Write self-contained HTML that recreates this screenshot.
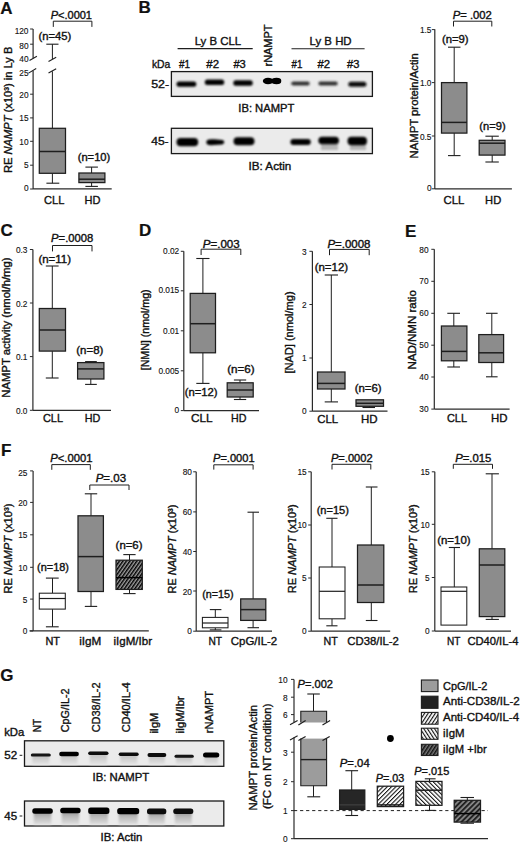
<!DOCTYPE html>
<html><head><meta charset="utf-8"><title>Figure</title>
<style>html,body{margin:0;padding:0;background:#fff;width:520px;height:844px;overflow:hidden}
svg{display:block;font-family:"Liberation Sans", sans-serif}
text{fill:#111;stroke:#111;stroke-width:0.36px}
text.t{stroke-width:0.12px}
text.L{stroke-width:0.2px}</style></head>
<body><svg width="520" height="844" viewBox="0 0 520 844">
<defs>
<filter id="b4" x="-20%" y="-100%" width="140%" height="300%"><feGaussianBlur stdDeviation="0.4"/></filter>
<filter id="b9" x="-20%" y="-100%" width="140%" height="300%"><feGaussianBlur stdDeviation="0.9"/></filter>
<filter id="b7" x="-20%" y="-100%" width="140%" height="300%"><feGaussianBlur stdDeviation="0.7"/></filter>
<filter id="b6" x="-20%" y="-100%" width="140%" height="300%"><feGaussianBlur stdDeviation="0.6"/></filter>
<filter id="b10" x="-20%" y="-100%" width="140%" height="300%"><feGaussianBlur stdDeviation="1.0"/></filter>
<linearGradient id="smear1" x1="0" y1="0" x2="0" y2="1"><stop offset="0" stop-color="#bdbdbd"/><stop offset="1" stop-color="#e4e4e4"/></linearGradient>
<linearGradient id="smear2" x1="0" y1="0" x2="0" y2="1"><stop offset="0" stop-color="#8a8a8a"/><stop offset="0.4" stop-color="#b8b8b8"/><stop offset="1" stop-color="#dedede"/></linearGradient>
<pattern id="hF" patternUnits="userSpaceOnUse" width="2.85" height="2.85" patternTransform="rotate(35)"><rect width="2.85" height="2.85" fill="#a0a0a0"/><rect width="1.45" height="2.85" fill="#000"/></pattern>
<pattern id="hG1" patternUnits="userSpaceOnUse" width="3.05" height="3.05" patternTransform="rotate(45)"><rect width="3.05" height="3.05" fill="#fff"/><rect width="1.05" height="3.05" fill="#111"/></pattern>
<pattern id="hG2" patternUnits="userSpaceOnUse" width="3.05" height="3.05" patternTransform="rotate(-45)"><rect width="3.05" height="3.05" fill="#fff"/><rect width="1.05" height="3.05" fill="#111"/></pattern>
<pattern id="hG3" patternUnits="userSpaceOnUse" width="3.7" height="3.7" patternTransform="rotate(45)"><rect width="3.7" height="3.7" fill="#8a8a8a"/><rect width="2.0" height="3.7" fill="#222"/></pattern>
<pattern id="hL1" patternUnits="userSpaceOnUse" width="3.0" height="3.0" patternTransform="rotate(33)"><rect width="3.0" height="3.0" fill="#fff"/><rect width="1.15" height="3.0" fill="#111"/></pattern>
<pattern id="hL2" patternUnits="userSpaceOnUse" width="3.0" height="3.0" patternTransform="rotate(-33)"><rect width="3.0" height="3.0" fill="#fff"/><rect width="1.15" height="3.0" fill="#111"/></pattern>
<pattern id="hL3" patternUnits="userSpaceOnUse" width="3.0" height="3.0" patternTransform="rotate(33)"><rect width="3.0" height="3.0" fill="#777"/><rect width="1.5" height="3.0" fill="#111"/></pattern>
</defs>
<rect width="520" height="844" fill="#fff"/>
<text x="0.3" y="13.5" font-size="17" font-weight="bold" class="L">A</text>
<text x="50.70" y="18.80" font-size="10.3" font-weight="normal" textLength="41.30" lengthAdjust="spacingAndGlyphs"><tspan font-style="italic">P</tspan>&lt;.0001</text>
<path d="M53.30 26.90V21.20H91.90V26.90" fill="none" stroke="#1e1e1e" stroke-width="1"/>
<line x1="33.10" y1="29.00" x2="33.10" y2="58.20" stroke="#2a2a2a" stroke-width="1.2" />
<line x1="33.10" y1="70.80" x2="33.10" y2="189.00" stroke="#2a2a2a" stroke-width="1.2" />
<line x1="30.10" y1="29.00" x2="33.10" y2="29.00" stroke="#2a2a2a" stroke-width="1.0" />
<text x="28.50" y="33.59" font-size="8.3" text-anchor="end" textLength="13.85" lengthAdjust="spacingAndGlyphs" class="t">120</text>
<line x1="30.10" y1="44.20" x2="33.10" y2="44.20" stroke="#2a2a2a" stroke-width="1.0" />
<text x="28.50" y="48.89" font-size="8.3" text-anchor="end" textLength="9.23" lengthAdjust="spacingAndGlyphs" class="t">80</text>
<text x="28.50" y="61.59" font-size="8.3" text-anchor="end" textLength="9.23" lengthAdjust="spacingAndGlyphs" class="t">40</text>
<text x="28.50" y="75.59" font-size="8.3" text-anchor="end" textLength="9.23" lengthAdjust="spacingAndGlyphs" class="t">25</text>
<line x1="30.10" y1="94.20" x2="33.10" y2="94.20" stroke="#2a2a2a" stroke-width="1.0" />
<text x="28.50" y="98.49" font-size="8.3" text-anchor="end" textLength="9.23" lengthAdjust="spacingAndGlyphs" class="t">20</text>
<line x1="30.10" y1="117.90" x2="33.10" y2="117.90" stroke="#2a2a2a" stroke-width="1.0" />
<text x="28.50" y="121.29" font-size="8.3" text-anchor="end" textLength="9.23" lengthAdjust="spacingAndGlyphs" class="t">15</text>
<line x1="30.10" y1="141.30" x2="33.10" y2="141.30" stroke="#2a2a2a" stroke-width="1.0" />
<text x="28.50" y="144.59" font-size="8.3" text-anchor="end" textLength="9.23" lengthAdjust="spacingAndGlyphs" class="t">10</text>
<line x1="30.10" y1="165.20" x2="33.10" y2="165.20" stroke="#2a2a2a" stroke-width="1.0" />
<text x="28.50" y="168.39" font-size="8.3" text-anchor="end" textLength="4.62" lengthAdjust="spacingAndGlyphs" class="t">5</text>
<line x1="30.10" y1="189.00" x2="33.10" y2="189.00" stroke="#2a2a2a" stroke-width="1.0" />
<text x="28.50" y="191.19" font-size="8.3" text-anchor="end" textLength="4.62" lengthAdjust="spacingAndGlyphs" class="t">0</text>
<line x1="29.50" y1="60.40" x2="36.90" y2="56.20" stroke="#1e1e1e" stroke-width="1.1" />
<line x1="28.50" y1="73.10" x2="36.20" y2="68.50" stroke="#1e1e1e" stroke-width="1.1" />
<line x1="52.40" y1="44.20" x2="52.40" y2="59.00" stroke="#1e1e1e" stroke-width="1.0" />
<line x1="52.40" y1="71.30" x2="52.40" y2="128.30" stroke="#1e1e1e" stroke-width="1.0" />
<line x1="46.30" y1="44.20" x2="58.50" y2="44.20" stroke="#1e1e1e" stroke-width="1.1" />
<line x1="48.50" y1="61.50" x2="56.20" y2="57.30" stroke="#1e1e1e" stroke-width="1.1" />
<line x1="48.50" y1="73.10" x2="56.20" y2="68.80" stroke="#1e1e1e" stroke-width="1.1" />
<line x1="52.40" y1="173.30" x2="52.40" y2="183.20" stroke="#1e1e1e" stroke-width="1.0" />
<line x1="46.40" y1="183.20" x2="59.30" y2="183.20" stroke="#1e1e1e" stroke-width="1.1" />
<rect x="39.30" y="128.30" width="26.20" height="45.00" fill="#8c8c8c" stroke="#1e1e1e" stroke-width="1.25"/>
<line x1="39.30" y1="151.50" x2="65.50" y2="151.50" stroke="#1e1e1e" stroke-width="1.5" />
<text x="38.50" y="39.80" font-size="10" font-weight="normal" textLength="32.80" lengthAdjust="spacingAndGlyphs">(n=45)</text>
<line x1="91.60" y1="167.10" x2="91.60" y2="173.00" stroke="#1e1e1e" stroke-width="1.0" />
<line x1="85.40" y1="167.10" x2="97.90" y2="167.10" stroke="#1e1e1e" stroke-width="1.1" />
<line x1="91.60" y1="182.60" x2="91.60" y2="186.40" stroke="#1e1e1e" stroke-width="1.0" />
<line x1="85.40" y1="186.40" x2="97.90" y2="186.40" stroke="#1e1e1e" stroke-width="1.1" />
<rect x="78.90" y="173.00" width="26.00" height="9.60" fill="#8c8c8c" stroke="#1e1e1e" stroke-width="1.25"/>
<line x1="78.90" y1="179.20" x2="104.90" y2="179.20" stroke="#1e1e1e" stroke-width="1.5" />
<text x="77.70" y="161.30" font-size="10" font-weight="normal" textLength="32.60" lengthAdjust="spacingAndGlyphs">(n=10)</text>
<line x1="33.10" y1="188.90" x2="111.70" y2="188.90" stroke="#2a2a2a" stroke-width="1.2" />
<text x="44.10" y="203.60" font-size="11" font-weight="normal" textLength="20.30" lengthAdjust="spacingAndGlyphs">CLL</text>
<text x="84.50" y="203.60" font-size="11" font-weight="normal" textLength="15.90" lengthAdjust="spacingAndGlyphs">HD</text>
<text x="11.60" y="173.10" font-size="10.5" transform="rotate(-90 11.60 173.10)" textLength="126.60" lengthAdjust="spacingAndGlyphs">RE <tspan font-style="italic">NAMPT</tspan> (x10³) in Ly B</text>
<text x="138.4" y="13.3" font-size="17" font-weight="bold" class="L">B</text>
<text x="194.70" y="44.80" font-size="11" font-weight="normal" textLength="46.50" lengthAdjust="spacingAndGlyphs">Ly B CLL</text>
<line x1="177.60" y1="48.60" x2="252.70" y2="48.60" stroke="#1e1e1e" stroke-width="1.1" />
<text x="309.60" y="44.90" font-size="11" font-weight="normal" textLength="42.00" lengthAdjust="spacingAndGlyphs">Ly B HD</text>
<line x1="291.50" y1="48.80" x2="364.60" y2="48.80" stroke="#1e1e1e" stroke-width="1.1" />
<text x="151.90" y="68.10" font-size="10.5" font-weight="normal" textLength="18.40" lengthAdjust="spacingAndGlyphs">kDa</text>
<text x="179.00" y="67.60" font-size="10.5" font-weight="normal" textLength="11.00" lengthAdjust="spacingAndGlyphs">#1</text>
<text x="206.30" y="67.60" font-size="10.5" font-weight="normal" textLength="12.70" lengthAdjust="spacingAndGlyphs">#2</text>
<text x="233.40" y="67.60" font-size="10.5" font-weight="normal" textLength="12.40" lengthAdjust="spacingAndGlyphs">#3</text>
<text x="291.60" y="67.60" font-size="10.5" font-weight="normal" textLength="10.80" lengthAdjust="spacingAndGlyphs">#1</text>
<text x="317.50" y="67.60" font-size="10.5" font-weight="normal" textLength="12.60" lengthAdjust="spacingAndGlyphs">#2</text>
<text x="347.00" y="67.60" font-size="10.5" font-weight="normal" textLength="12.40" lengthAdjust="spacingAndGlyphs">#3</text>
<text x="272.00" y="66.50" font-size="10.5" transform="rotate(-90 272.00 66.50)" textLength="42.00" lengthAdjust="spacingAndGlyphs">rNAMPT</text>
<rect x="171.4" y="71.6" width="201.00" height="24.80" fill="#ebebeb" stroke="#1a1a1a" stroke-width="1.3"/>
<text x="151.20" y="88.00" font-size="10.5" font-weight="normal" textLength="17.90" lengthAdjust="spacingAndGlyphs">52-</text>
<rect x="176.50" y="81.40" width="19.80" height="5.40" rx="2.50" fill="#000" opacity="1" filter="url(#b9)"/>
<rect x="204.80" y="79.50" width="19.40" height="5.40" rx="2.50" fill="#000" opacity="1" filter="url(#b9)"/>
<rect x="233.30" y="80.30" width="19.40" height="5.40" rx="2.50" fill="#000" opacity="1" filter="url(#b9)"/>
<ellipse cx="268.00" cy="81.00" rx="5.20" ry="3.30" fill="#000" opacity="1" filter="url(#b6)"/>
<ellipse cx="276.50" cy="81.00" rx="4.80" ry="3.20" fill="#000" opacity="1" filter="url(#b6)"/>
<rect x="263.50" y="78.80" width="17.50" height="4.40" rx="2.20" fill="#000" opacity="1" filter="url(#b6)"/>
<rect x="291.20" y="81.40" width="18.50" height="4.20" rx="2.10" fill="#303030" opacity="1" filter="url(#b9)"/>
<rect x="318.40" y="81.40" width="19.30" height="4.20" rx="2.10" fill="#303030" opacity="1" filter="url(#b9)"/>
<rect x="348.30" y="81.70" width="18.10" height="5.00" rx="2.50" fill="#101010" opacity="1" filter="url(#b9)"/>
<text x="238.30" y="111.50" font-size="10.5" font-weight="normal" textLength="56.00" lengthAdjust="spacingAndGlyphs">IB: NAMPT</text>
<rect x="171.4" y="128.3" width="201.00" height="25.30" fill="#ebebeb" stroke="#1a1a1a" stroke-width="1.3"/>
<text x="151.20" y="145.00" font-size="10.5" font-weight="normal" textLength="17.40" lengthAdjust="spacingAndGlyphs">45-</text>
<rect x="176.50" y="138.00" width="21.70" height="8.20" rx="4.00" fill="#000" opacity="1" filter="url(#b9)"/>
<path d="M206.3 142.2 C206.3 139.2 210 139 214.5 139.3 L222 140 C225 140.4 225 144 222 144.4 L214.5 145.1 C210 145.4 206.3 145.2 206.3 142.2Z" fill="#050505" filter="url(#b9)"/>
<rect x="233.50" y="137.30" width="21.00" height="8.00" rx="4.00" fill="#000" opacity="1" filter="url(#b9)"/>
<rect x="290.40" y="139.00" width="20.40" height="6.00" rx="3.00" fill="#000" opacity="1" filter="url(#b9)"/>
<rect x="321" y="143" width="17" height="7" fill="#a0a0a0" opacity="0.7" filter="url(#b10)"/>
<rect x="350" y="143.5" width="16" height="6.5" fill="#a0a0a0" opacity="0.7" filter="url(#b10)"/>
<rect x="318.30" y="136.70" width="20.70" height="7.60" rx="3.80" fill="#000" opacity="1" filter="url(#b9)"/>
<rect x="347.50" y="136.80" width="19.50" height="8.40" rx="4.00" fill="#000" opacity="1" filter="url(#b9)"/>
<text x="248.50" y="170.00" font-size="10.5" font-weight="normal" textLength="42.80" lengthAdjust="spacingAndGlyphs">IB: Actin</text>
<text x="452.70" y="18.50" font-size="10.3" font-weight="normal" textLength="39.20" lengthAdjust="spacingAndGlyphs"><tspan font-style="italic">P</tspan>= .002</text>
<path d="M453.50 26.50V21.20H491.80V26.50" fill="none" stroke="#1e1e1e" stroke-width="1"/>
<line x1="434.80" y1="29.30" x2="434.80" y2="189.00" stroke="#2a2a2a" stroke-width="1.2" />
<line x1="431.80" y1="29.60" x2="434.80" y2="29.60" stroke="#2a2a2a" stroke-width="1.0" />
<text x="431.50" y="32.69" font-size="8.3" text-anchor="end" textLength="11.54" lengthAdjust="spacingAndGlyphs" class="t">1.5</text>
<line x1="431.80" y1="82.60" x2="434.80" y2="82.60" stroke="#2a2a2a" stroke-width="1.0" />
<text x="431.50" y="85.79" font-size="8.3" text-anchor="end" textLength="11.54" lengthAdjust="spacingAndGlyphs" class="t">1.0</text>
<line x1="431.80" y1="136.00" x2="434.80" y2="136.00" stroke="#2a2a2a" stroke-width="1.0" />
<text x="431.50" y="139.59" font-size="8.3" text-anchor="end" textLength="11.54" lengthAdjust="spacingAndGlyphs" class="t">0.5</text>
<line x1="431.80" y1="188.80" x2="434.80" y2="188.80" stroke="#2a2a2a" stroke-width="1.0" />
<text x="431.50" y="191.29" font-size="8.3" text-anchor="end" textLength="4.62" lengthAdjust="spacingAndGlyphs" class="t">0</text>
<line x1="454.20" y1="47.20" x2="454.20" y2="82.60" stroke="#1e1e1e" stroke-width="1.0" />
<line x1="448.00" y1="47.20" x2="460.50" y2="47.20" stroke="#1e1e1e" stroke-width="1.1" />
<line x1="454.20" y1="133.10" x2="454.20" y2="155.60" stroke="#1e1e1e" stroke-width="1.0" />
<line x1="448.00" y1="155.60" x2="460.50" y2="155.60" stroke="#1e1e1e" stroke-width="1.1" />
<rect x="441.50" y="82.60" width="25.40" height="50.50" fill="#8c8c8c" stroke="#1e1e1e" stroke-width="1.25"/>
<line x1="441.50" y1="122.40" x2="466.90" y2="122.40" stroke="#1e1e1e" stroke-width="1.5" />
<text x="441.90" y="43.00" font-size="10" font-weight="normal" textLength="26.70" lengthAdjust="spacingAndGlyphs">(n=9)</text>
<line x1="492.20" y1="136.20" x2="492.20" y2="140.30" stroke="#1e1e1e" stroke-width="1.0" />
<line x1="485.40" y1="136.20" x2="498.80" y2="136.20" stroke="#1e1e1e" stroke-width="1.1" />
<line x1="492.20" y1="155.10" x2="492.20" y2="162.00" stroke="#1e1e1e" stroke-width="1.0" />
<line x1="485.40" y1="162.00" x2="498.80" y2="162.00" stroke="#1e1e1e" stroke-width="1.1" />
<rect x="479.20" y="140.30" width="25.80" height="14.80" fill="#8c8c8c" stroke="#1e1e1e" stroke-width="1.25"/>
<line x1="479.20" y1="143.20" x2="505.00" y2="143.20" stroke="#1e1e1e" stroke-width="1.5" />
<text x="479.30" y="130.30" font-size="10" font-weight="normal" textLength="26.30" lengthAdjust="spacingAndGlyphs">(n=9)</text>
<line x1="434.80" y1="188.80" x2="511.90" y2="188.80" stroke="#2a2a2a" stroke-width="1.2" />
<text x="443.50" y="203.50" font-size="11" font-weight="normal" textLength="20.80" lengthAdjust="spacingAndGlyphs">CLL</text>
<text x="485.10" y="203.50" font-size="11" font-weight="normal" textLength="16.10" lengthAdjust="spacingAndGlyphs">HD</text>
<text x="418.00" y="158.40" font-size="10.8" transform="rotate(-90 418.00 158.40)" textLength="105.30" lengthAdjust="spacingAndGlyphs">NAMPT protein/Actin</text>
<text x="0.5" y="236.2" font-size="17" font-weight="bold" class="L">C</text>
<text x="51.10" y="241.90" font-size="10.3" font-weight="normal" textLength="42.10" lengthAdjust="spacingAndGlyphs"><tspan font-style="italic">P</tspan>=.0008</text>
<path d="M52.50 251.40V245.50H92.00V251.40" fill="none" stroke="#1e1e1e" stroke-width="1"/>
<line x1="32.90" y1="249.50" x2="32.90" y2="410.30" stroke="#2a2a2a" stroke-width="1.2" />
<line x1="29.90" y1="249.50" x2="32.90" y2="249.50" stroke="#2a2a2a" stroke-width="1.0" />
<text x="27.50" y="253.49" font-size="8.3" text-anchor="end" textLength="11.54" lengthAdjust="spacingAndGlyphs" class="t">0.3</text>
<line x1="29.90" y1="303.00" x2="32.90" y2="303.00" stroke="#2a2a2a" stroke-width="1.0" />
<text x="27.50" y="306.59" font-size="8.3" text-anchor="end" textLength="11.54" lengthAdjust="spacingAndGlyphs" class="t">0.2</text>
<line x1="29.90" y1="356.60" x2="32.90" y2="356.60" stroke="#2a2a2a" stroke-width="1.0" />
<text x="27.50" y="359.99" font-size="8.3" text-anchor="end" textLength="11.54" lengthAdjust="spacingAndGlyphs" class="t">0.1</text>
<line x1="29.90" y1="410.30" x2="32.90" y2="410.30" stroke="#2a2a2a" stroke-width="1.0" />
<text x="27.50" y="413.69" font-size="8.3" text-anchor="end" textLength="11.54" lengthAdjust="spacingAndGlyphs" class="t">0.0</text>
<line x1="52.30" y1="266.00" x2="52.30" y2="308.50" stroke="#1e1e1e" stroke-width="1.0" />
<line x1="45.80" y1="266.00" x2="58.60" y2="266.00" stroke="#1e1e1e" stroke-width="1.1" />
<line x1="52.30" y1="351.10" x2="52.30" y2="378.00" stroke="#1e1e1e" stroke-width="1.0" />
<line x1="45.80" y1="378.00" x2="58.60" y2="378.00" stroke="#1e1e1e" stroke-width="1.1" />
<rect x="39.30" y="308.50" width="26.20" height="42.60" fill="#8c8c8c" stroke="#1e1e1e" stroke-width="1.25"/>
<line x1="39.30" y1="330.00" x2="65.50" y2="330.00" stroke="#1e1e1e" stroke-width="1.5" />
<text x="38.40" y="263.20" font-size="10" font-weight="normal" textLength="32.60" lengthAdjust="spacingAndGlyphs">(n=11)</text>
<line x1="90.80" y1="361.60" x2="90.80" y2="362.60" stroke="#1e1e1e" stroke-width="1.0" />
<line x1="85.10" y1="361.60" x2="96.80" y2="361.60" stroke="#1e1e1e" stroke-width="1.1" />
<line x1="90.80" y1="379.00" x2="90.80" y2="384.40" stroke="#1e1e1e" stroke-width="1.0" />
<line x1="85.10" y1="384.40" x2="96.80" y2="384.40" stroke="#1e1e1e" stroke-width="1.1" />
<rect x="77.60" y="362.60" width="26.30" height="16.40" fill="#8c8c8c" stroke="#1e1e1e" stroke-width="1.25"/>
<line x1="77.60" y1="368.90" x2="103.90" y2="368.90" stroke="#1e1e1e" stroke-width="1.5" />
<text x="76.30" y="354.00" font-size="10" font-weight="normal" textLength="27.10" lengthAdjust="spacingAndGlyphs">(n=8)</text>
<line x1="32.90" y1="410.30" x2="111.00" y2="410.30" stroke="#2a2a2a" stroke-width="1.2" />
<text x="43.00" y="422.40" font-size="11" font-weight="normal" textLength="20.00" lengthAdjust="spacingAndGlyphs">CLL</text>
<text x="84.80" y="422.40" font-size="11" font-weight="normal" textLength="15.60" lengthAdjust="spacingAndGlyphs">HD</text>
<text x="9.80" y="397.70" font-size="10.5" transform="rotate(-90 9.80 397.70)" textLength="140.20" lengthAdjust="spacingAndGlyphs">NAMPT activity (nmol/h/mg)</text>
<text x="139" y="236.2" font-size="17" font-weight="bold" class="L">D</text>
<text x="202.70" y="247.80" font-size="10.3" font-weight="normal" textLength="37.00" lengthAdjust="spacingAndGlyphs"><tspan font-style="italic">P</tspan>=.003</text>
<path d="M201.10 255.00V249.20H240.80V255.00" fill="none" stroke="#1e1e1e" stroke-width="1"/>
<line x1="183.80" y1="251.30" x2="183.80" y2="410.60" stroke="#2a2a2a" stroke-width="1.2" />
<line x1="180.80" y1="251.30" x2="183.80" y2="251.30" stroke="#2a2a2a" stroke-width="1.0" />
<text x="179.20" y="254.39" font-size="8.3" text-anchor="end" textLength="16.15" lengthAdjust="spacingAndGlyphs" class="t">0.02</text>
<line x1="180.80" y1="290.80" x2="183.80" y2="290.80" stroke="#2a2a2a" stroke-width="1.0" />
<text x="179.20" y="293.19" font-size="8.3" text-anchor="end" textLength="20.77" lengthAdjust="spacingAndGlyphs" class="t">0.015</text>
<line x1="180.80" y1="330.80" x2="183.80" y2="330.80" stroke="#2a2a2a" stroke-width="1.0" />
<text x="179.20" y="333.79" font-size="8.3" text-anchor="end" textLength="16.15" lengthAdjust="spacingAndGlyphs" class="t">0.01</text>
<line x1="180.80" y1="370.80" x2="183.80" y2="370.80" stroke="#2a2a2a" stroke-width="1.0" />
<text x="179.20" y="374.19" font-size="8.3" text-anchor="end" textLength="20.77" lengthAdjust="spacingAndGlyphs" class="t">0.005</text>
<line x1="180.80" y1="410.60" x2="183.80" y2="410.60" stroke="#2a2a2a" stroke-width="1.0" />
<text x="179.20" y="413.19" font-size="8.3" text-anchor="end" textLength="4.62" lengthAdjust="spacingAndGlyphs" class="t">0</text>
<line x1="202.90" y1="258.50" x2="202.90" y2="293.40" stroke="#1e1e1e" stroke-width="1.0" />
<line x1="196.30" y1="258.50" x2="209.50" y2="258.50" stroke="#1e1e1e" stroke-width="1.1" />
<line x1="202.90" y1="352.80" x2="202.90" y2="383.40" stroke="#1e1e1e" stroke-width="1.0" />
<line x1="196.30" y1="383.40" x2="209.50" y2="383.40" stroke="#1e1e1e" stroke-width="1.1" />
<rect x="190.20" y="293.40" width="25.30" height="59.40" fill="#8c8c8c" stroke="#1e1e1e" stroke-width="1.25"/>
<line x1="190.20" y1="323.70" x2="215.50" y2="323.70" stroke="#1e1e1e" stroke-width="1.5" />
<text x="184.70" y="396.10" font-size="10" font-weight="normal" textLength="32.90" lengthAdjust="spacingAndGlyphs">(n=12)</text>
<line x1="240.00" y1="380.00" x2="240.00" y2="382.80" stroke="#1e1e1e" stroke-width="1.0" />
<line x1="233.90" y1="380.00" x2="246.20" y2="380.00" stroke="#1e1e1e" stroke-width="1.1" />
<line x1="240.00" y1="397.00" x2="240.00" y2="399.50" stroke="#1e1e1e" stroke-width="1.0" />
<line x1="233.90" y1="399.50" x2="246.20" y2="399.50" stroke="#1e1e1e" stroke-width="1.1" />
<rect x="227.20" y="382.80" width="26.00" height="14.20" fill="#8c8c8c" stroke="#1e1e1e" stroke-width="1.25"/>
<line x1="227.20" y1="390.00" x2="253.20" y2="390.00" stroke="#1e1e1e" stroke-width="1.5" />
<text x="227.20" y="373.00" font-size="10" font-weight="normal" textLength="27.40" lengthAdjust="spacingAndGlyphs">(n=6)</text>
<line x1="183.80" y1="410.60" x2="259.00" y2="410.60" stroke="#2a2a2a" stroke-width="1.2" />
<text x="191.00" y="422.20" font-size="11" font-weight="normal" textLength="21.60" lengthAdjust="spacingAndGlyphs">CLL</text>
<text x="231.00" y="422.20" font-size="11" font-weight="normal" textLength="15.40" lengthAdjust="spacingAndGlyphs">HD</text>
<text x="148.80" y="370.30" font-size="10.8" transform="rotate(-90 148.80 370.30)" textLength="80.90" lengthAdjust="spacingAndGlyphs">[NMN] (nmol/mg)</text>
<text x="327.40" y="247.80" font-size="10.3" font-weight="normal" textLength="43.10" lengthAdjust="spacingAndGlyphs"><tspan font-style="italic">P</tspan>=.0008</text>
<path d="M329.50 255.20V249.40H369.20V255.20" fill="none" stroke="#1e1e1e" stroke-width="1"/>
<line x1="312.40" y1="251.30" x2="312.40" y2="411.20" stroke="#2a2a2a" stroke-width="1.2" />
<line x1="309.40" y1="251.30" x2="312.40" y2="251.30" stroke="#2a2a2a" stroke-width="1.0" />
<text x="306.70" y="255.19" font-size="8.3" text-anchor="end" textLength="4.62" lengthAdjust="spacingAndGlyphs" class="t">3</text>
<line x1="309.40" y1="304.50" x2="312.40" y2="304.50" stroke="#2a2a2a" stroke-width="1.0" />
<text x="306.70" y="307.59" font-size="8.3" text-anchor="end" textLength="4.62" lengthAdjust="spacingAndGlyphs" class="t">2</text>
<line x1="309.40" y1="358.00" x2="312.40" y2="358.00" stroke="#2a2a2a" stroke-width="1.0" />
<text x="306.70" y="360.79" font-size="8.3" text-anchor="end" textLength="4.62" lengthAdjust="spacingAndGlyphs" class="t">1</text>
<line x1="309.40" y1="411.20" x2="312.40" y2="411.20" stroke="#2a2a2a" stroke-width="1.0" />
<text x="306.70" y="413.89" font-size="8.3" text-anchor="end" textLength="4.62" lengthAdjust="spacingAndGlyphs" class="t">0</text>
<line x1="331.30" y1="275.00" x2="331.30" y2="372.00" stroke="#1e1e1e" stroke-width="1.0" />
<line x1="324.70" y1="275.00" x2="338.00" y2="275.00" stroke="#1e1e1e" stroke-width="1.1" />
<line x1="331.30" y1="389.00" x2="331.30" y2="401.90" stroke="#1e1e1e" stroke-width="1.0" />
<line x1="324.70" y1="401.90" x2="338.00" y2="401.90" stroke="#1e1e1e" stroke-width="1.1" />
<rect x="317.50" y="372.00" width="27.50" height="17.00" fill="#8c8c8c" stroke="#1e1e1e" stroke-width="1.25"/>
<line x1="317.50" y1="383.40" x2="345.00" y2="383.40" stroke="#1e1e1e" stroke-width="1.5" />
<text x="314.70" y="271.00" font-size="10" font-weight="normal" textLength="33.40" lengthAdjust="spacingAndGlyphs">(n=12)</text>
<line x1="369.50" y1="406.30" x2="369.50" y2="407.50" stroke="#1e1e1e" stroke-width="1.0" />
<line x1="362.50" y1="407.50" x2="375.00" y2="407.50" stroke="#1e1e1e" stroke-width="1.1" />
<rect x="356.00" y="399.80" width="27.50" height="6.50" fill="#8c8c8c" stroke="#1e1e1e" stroke-width="1.25"/>
<line x1="356.00" y1="403.30" x2="383.50" y2="403.30" stroke="#1e1e1e" stroke-width="1.5" />
<text x="354.70" y="392.00" font-size="10" font-weight="normal" textLength="26.90" lengthAdjust="spacingAndGlyphs">(n=6)</text>
<line x1="312.40" y1="411.20" x2="387.50" y2="411.20" stroke="#2a2a2a" stroke-width="1.2" />
<text x="317.20" y="423.00" font-size="11" font-weight="normal" textLength="20.90" lengthAdjust="spacingAndGlyphs">CLL</text>
<text x="361.00" y="423.00" font-size="11" font-weight="normal" textLength="16.60" lengthAdjust="spacingAndGlyphs">HD</text>
<text x="292.80" y="373.60" font-size="10.8" transform="rotate(-90 292.80 373.60)" textLength="82.20" lengthAdjust="spacingAndGlyphs">[NAD] (nmol/mg)</text>
<text x="405" y="236.7" font-size="17" font-weight="bold" class="L">E</text>
<line x1="434.30" y1="249.30" x2="434.30" y2="409.10" stroke="#2a2a2a" stroke-width="1.2" />
<line x1="431.30" y1="249.30" x2="434.30" y2="249.30" stroke="#2a2a2a" stroke-width="1.0" />
<text x="428.60" y="252.69" font-size="8.3" text-anchor="end" textLength="9.23" lengthAdjust="spacingAndGlyphs" class="t">80</text>
<line x1="431.30" y1="281.30" x2="434.30" y2="281.30" stroke="#2a2a2a" stroke-width="1.0" />
<text x="428.60" y="284.49" font-size="8.3" text-anchor="end" textLength="9.23" lengthAdjust="spacingAndGlyphs" class="t">70</text>
<line x1="431.30" y1="313.30" x2="434.30" y2="313.30" stroke="#2a2a2a" stroke-width="1.0" />
<text x="428.60" y="316.39" font-size="8.3" text-anchor="end" textLength="9.23" lengthAdjust="spacingAndGlyphs" class="t">60</text>
<line x1="431.30" y1="345.20" x2="434.30" y2="345.20" stroke="#2a2a2a" stroke-width="1.0" />
<text x="428.60" y="348.09" font-size="8.3" text-anchor="end" textLength="9.23" lengthAdjust="spacingAndGlyphs" class="t">50</text>
<line x1="431.30" y1="377.00" x2="434.30" y2="377.00" stroke="#2a2a2a" stroke-width="1.0" />
<text x="428.60" y="379.79" font-size="8.3" text-anchor="end" textLength="9.23" lengthAdjust="spacingAndGlyphs" class="t">40</text>
<line x1="431.30" y1="409.10" x2="434.30" y2="409.10" stroke="#2a2a2a" stroke-width="1.0" />
<text x="428.60" y="412.09" font-size="8.3" text-anchor="end" textLength="9.23" lengthAdjust="spacingAndGlyphs" class="t">30</text>
<line x1="453.80" y1="313.30" x2="453.80" y2="326.00" stroke="#1e1e1e" stroke-width="1.0" />
<line x1="447.30" y1="313.30" x2="460.00" y2="313.30" stroke="#1e1e1e" stroke-width="1.1" />
<line x1="453.80" y1="360.80" x2="453.80" y2="367.00" stroke="#1e1e1e" stroke-width="1.0" />
<line x1="447.30" y1="367.00" x2="460.00" y2="367.00" stroke="#1e1e1e" stroke-width="1.1" />
<rect x="441.40" y="326.00" width="25.50" height="34.80" fill="#8c8c8c" stroke="#1e1e1e" stroke-width="1.25"/>
<line x1="441.40" y1="351.40" x2="466.90" y2="351.40" stroke="#1e1e1e" stroke-width="1.5" />
<line x1="491.80" y1="313.30" x2="491.80" y2="334.60" stroke="#1e1e1e" stroke-width="1.0" />
<line x1="486.00" y1="313.30" x2="497.60" y2="313.30" stroke="#1e1e1e" stroke-width="1.1" />
<line x1="491.80" y1="362.50" x2="491.80" y2="376.80" stroke="#1e1e1e" stroke-width="1.0" />
<line x1="486.00" y1="376.80" x2="497.60" y2="376.80" stroke="#1e1e1e" stroke-width="1.1" />
<rect x="478.80" y="334.60" width="24.80" height="27.90" fill="#8c8c8c" stroke="#1e1e1e" stroke-width="1.25"/>
<line x1="478.80" y1="352.80" x2="503.60" y2="352.80" stroke="#1e1e1e" stroke-width="1.5" />
<line x1="434.30" y1="409.10" x2="509.60" y2="409.10" stroke="#2a2a2a" stroke-width="1.2" />
<text x="447.00" y="422.30" font-size="11" font-weight="normal" textLength="20.00" lengthAdjust="spacingAndGlyphs">CLL</text>
<text x="490.90" y="422.30" font-size="11" font-weight="normal" textLength="16.50" lengthAdjust="spacingAndGlyphs">HD</text>
<text x="416.00" y="369.50" font-size="10.5" transform="rotate(-90 416.00 369.50)" textLength="79.30" lengthAdjust="spacingAndGlyphs">NAD/NMN ratio</text>
<text x="1.1" y="456" font-size="17" font-weight="bold" class="L">F</text>
<text x="50.20" y="461.80" font-size="10.3" font-weight="normal" textLength="42.20" lengthAdjust="spacingAndGlyphs"><tspan font-style="italic">P</tspan>&lt;.0001</text>
<path d="M51.80 469.80V464.60H90.30V469.80" fill="none" stroke="#1e1e1e" stroke-width="1"/>
<text x="95.70" y="482.20" font-size="10.3" font-weight="normal" textLength="30.40" lengthAdjust="spacingAndGlyphs"><tspan font-style="italic">P</tspan>=.03</text>
<path d="M89.80 490.00V485.00H129.00V490.00" fill="none" stroke="#1e1e1e" stroke-width="1"/>
<line x1="33.10" y1="471.00" x2="33.10" y2="631.00" stroke="#2a2a2a" stroke-width="1.2" />
<line x1="30.10" y1="470.90" x2="33.10" y2="470.90" stroke="#2a2a2a" stroke-width="1.0" />
<text x="27.40" y="475.59" font-size="8.3" text-anchor="end" textLength="9.23" lengthAdjust="spacingAndGlyphs" class="t">25</text>
<line x1="30.10" y1="502.40" x2="33.10" y2="502.40" stroke="#2a2a2a" stroke-width="1.0" />
<text x="27.40" y="505.59" font-size="8.3" text-anchor="end" textLength="9.23" lengthAdjust="spacingAndGlyphs" class="t">20</text>
<line x1="30.10" y1="534.80" x2="33.10" y2="534.80" stroke="#2a2a2a" stroke-width="1.0" />
<text x="27.40" y="537.89" font-size="8.3" text-anchor="end" textLength="9.23" lengthAdjust="spacingAndGlyphs" class="t">15</text>
<line x1="30.10" y1="567.30" x2="33.10" y2="567.30" stroke="#2a2a2a" stroke-width="1.0" />
<text x="27.40" y="570.89" font-size="8.3" text-anchor="end" textLength="9.23" lengthAdjust="spacingAndGlyphs" class="t">10</text>
<line x1="30.10" y1="599.10" x2="33.10" y2="599.10" stroke="#2a2a2a" stroke-width="1.0" />
<text x="27.40" y="603.09" font-size="8.3" text-anchor="end" textLength="4.62" lengthAdjust="spacingAndGlyphs" class="t">5</text>
<line x1="30.10" y1="631.00" x2="33.10" y2="631.00" stroke="#2a2a2a" stroke-width="1.0" />
<text x="27.40" y="634.29" font-size="8.3" text-anchor="end" textLength="4.62" lengthAdjust="spacingAndGlyphs" class="t">0</text>
<line x1="52.50" y1="578.10" x2="52.50" y2="593.20" stroke="#1e1e1e" stroke-width="1.0" />
<line x1="45.90" y1="578.10" x2="58.70" y2="578.10" stroke="#1e1e1e" stroke-width="1.1" />
<line x1="52.50" y1="609.10" x2="52.50" y2="626.80" stroke="#1e1e1e" stroke-width="1.0" />
<line x1="45.90" y1="626.80" x2="58.70" y2="626.80" stroke="#1e1e1e" stroke-width="1.1" />
<rect x="39.30" y="593.20" width="26.00" height="15.90" fill="#fff" stroke="#1e1e1e" stroke-width="1.05"/>
<line x1="39.30" y1="598.50" x2="65.30" y2="598.50" stroke="#1e1e1e" stroke-width="1.2" />
<text x="37.10" y="570.50" font-size="10" font-weight="normal" textLength="31.80" lengthAdjust="spacingAndGlyphs">(n=18)</text>
<line x1="91.00" y1="493.80" x2="91.00" y2="515.80" stroke="#1e1e1e" stroke-width="1.0" />
<line x1="84.80" y1="493.80" x2="97.20" y2="493.80" stroke="#1e1e1e" stroke-width="1.1" />
<line x1="91.00" y1="591.50" x2="91.00" y2="606.40" stroke="#1e1e1e" stroke-width="1.0" />
<line x1="84.80" y1="606.40" x2="97.20" y2="606.40" stroke="#1e1e1e" stroke-width="1.1" />
<rect x="78.00" y="515.80" width="25.40" height="75.70" fill="#8c8c8c" stroke="#1e1e1e" stroke-width="1.25"/>
<line x1="78.00" y1="556.60" x2="103.40" y2="556.60" stroke="#1e1e1e" stroke-width="1.5" />
<line x1="129.50" y1="554.60" x2="129.50" y2="560.20" stroke="#1e1e1e" stroke-width="1.0" />
<line x1="123.30" y1="554.60" x2="135.60" y2="554.60" stroke="#1e1e1e" stroke-width="1.1" />
<line x1="129.50" y1="589.40" x2="129.50" y2="593.60" stroke="#1e1e1e" stroke-width="1.0" />
<line x1="123.30" y1="593.60" x2="135.60" y2="593.60" stroke="#1e1e1e" stroke-width="1.1" />
<rect x="116.00" y="560.20" width="26.30" height="29.20" fill="url(#hF)" stroke="#1e1e1e" stroke-width="1.25"/>
<line x1="116.00" y1="577.60" x2="142.30" y2="577.60" stroke="#000" stroke-width="1.5" />
<text x="115.60" y="548.50" font-size="10" font-weight="normal" textLength="26.90" lengthAdjust="spacingAndGlyphs">(n=6)</text>
<line x1="29.50" y1="630.80" x2="148.80" y2="630.80" stroke="#2a2a2a" stroke-width="1.2" />
<text x="45.40" y="644.80" font-size="11" font-weight="normal" textLength="14.60" lengthAdjust="spacingAndGlyphs">NT</text>
<text x="79.20" y="644.80" font-size="11" font-weight="normal" textLength="22.10" lengthAdjust="spacingAndGlyphs">iIgM</text>
<text x="113.50" y="644.80" font-size="11" font-weight="normal" textLength="38.60" lengthAdjust="spacingAndGlyphs">iIgM/Ibr</text>
<text x="12.10" y="593.80" font-size="10.6" transform="rotate(-90 12.10 593.80)" textLength="90.20" lengthAdjust="spacingAndGlyphs">RE <tspan font-style="italic">NAMPT</tspan> (x10³)</text>
<text x="213.00" y="461.80" font-size="10.3" font-weight="normal" textLength="41.60" lengthAdjust="spacingAndGlyphs"><tspan font-style="italic">P</tspan>=.0001</text>
<path d="M213.80 469.60V464.80H253.10V469.60" fill="none" stroke="#1e1e1e" stroke-width="1"/>
<line x1="196.20" y1="471.80" x2="196.20" y2="631.20" stroke="#2a2a2a" stroke-width="1.2" />
<line x1="193.20" y1="471.80" x2="196.20" y2="471.80" stroke="#2a2a2a" stroke-width="1.0" />
<text x="191.90" y="475.29" font-size="8.3" text-anchor="end" textLength="9.23" lengthAdjust="spacingAndGlyphs" class="t">80</text>
<line x1="193.20" y1="511.90" x2="196.20" y2="511.90" stroke="#2a2a2a" stroke-width="1.0" />
<text x="191.90" y="515.39" font-size="8.3" text-anchor="end" textLength="9.23" lengthAdjust="spacingAndGlyphs" class="t">60</text>
<line x1="193.20" y1="551.50" x2="196.20" y2="551.50" stroke="#2a2a2a" stroke-width="1.0" />
<text x="191.90" y="555.39" font-size="8.3" text-anchor="end" textLength="9.23" lengthAdjust="spacingAndGlyphs" class="t">40</text>
<line x1="193.20" y1="591.00" x2="196.20" y2="591.00" stroke="#2a2a2a" stroke-width="1.0" />
<text x="191.90" y="594.69" font-size="8.3" text-anchor="end" textLength="9.23" lengthAdjust="spacingAndGlyphs" class="t">20</text>
<line x1="193.20" y1="631.20" x2="196.20" y2="631.20" stroke="#2a2a2a" stroke-width="1.0" />
<text x="191.90" y="634.49" font-size="8.3" text-anchor="end" textLength="4.62" lengthAdjust="spacingAndGlyphs" class="t">0</text>
<line x1="215.30" y1="609.60" x2="215.30" y2="617.40" stroke="#1e1e1e" stroke-width="1.0" />
<line x1="209.80" y1="609.60" x2="221.40" y2="609.60" stroke="#1e1e1e" stroke-width="1.1" />
<line x1="215.30" y1="627.80" x2="215.30" y2="629.90" stroke="#1e1e1e" stroke-width="1.0" />
<line x1="209.80" y1="629.90" x2="221.40" y2="629.90" stroke="#1e1e1e" stroke-width="1.1" />
<rect x="202.40" y="617.40" width="25.60" height="10.40" fill="#fff" stroke="#1e1e1e" stroke-width="1.05"/>
<line x1="202.40" y1="623.00" x2="228.00" y2="623.00" stroke="#1e1e1e" stroke-width="1.2" />
<text x="202.20" y="598.40" font-size="10" font-weight="normal" textLength="31.40" lengthAdjust="spacingAndGlyphs">(n=15)</text>
<line x1="253.10" y1="512.20" x2="253.10" y2="598.90" stroke="#1e1e1e" stroke-width="1.0" />
<line x1="247.50" y1="512.20" x2="259.00" y2="512.20" stroke="#1e1e1e" stroke-width="1.1" />
<line x1="253.10" y1="620.40" x2="253.10" y2="627.70" stroke="#1e1e1e" stroke-width="1.0" />
<line x1="247.50" y1="627.70" x2="259.00" y2="627.70" stroke="#1e1e1e" stroke-width="1.1" />
<rect x="240.70" y="598.90" width="25.10" height="21.50" fill="#8c8c8c" stroke="#1e1e1e" stroke-width="1.25"/>
<line x1="240.70" y1="609.60" x2="265.80" y2="609.60" stroke="#1e1e1e" stroke-width="1.5" />
<line x1="196.20" y1="631.20" x2="272.00" y2="631.20" stroke="#2a2a2a" stroke-width="1.2" />
<text x="208.50" y="644.80" font-size="11" font-weight="normal" textLength="13.60" lengthAdjust="spacingAndGlyphs">NT</text>
<text x="230.80" y="644.80" font-size="11" font-weight="normal" textLength="46.40" lengthAdjust="spacingAndGlyphs">CpG/IL-2</text>
<text x="176.50" y="593.80" font-size="10.6" transform="rotate(-90 176.50 593.80)" textLength="89.30" lengthAdjust="spacingAndGlyphs">RE <tspan font-style="italic">NAMPT</tspan> (x10³)</text>
<text x="330.90" y="461.60" font-size="10.3" font-weight="normal" textLength="41.70" lengthAdjust="spacingAndGlyphs"><tspan font-style="italic">P</tspan>=.0002</text>
<path d="M332.00 469.50V464.30H370.80V469.50" fill="none" stroke="#1e1e1e" stroke-width="1"/>
<line x1="311.20" y1="471.80" x2="311.20" y2="631.20" stroke="#2a2a2a" stroke-width="1.2" />
<line x1="308.20" y1="471.80" x2="311.20" y2="471.80" stroke="#2a2a2a" stroke-width="1.0" />
<text x="306.70" y="475.29" font-size="8.3" text-anchor="end" textLength="9.23" lengthAdjust="spacingAndGlyphs" class="t">15</text>
<line x1="308.20" y1="525.00" x2="311.20" y2="525.00" stroke="#2a2a2a" stroke-width="1.0" />
<text x="306.70" y="528.49" font-size="8.3" text-anchor="end" textLength="9.23" lengthAdjust="spacingAndGlyphs" class="t">10</text>
<line x1="308.20" y1="578.00" x2="311.20" y2="578.00" stroke="#2a2a2a" stroke-width="1.0" />
<text x="306.70" y="581.49" font-size="8.3" text-anchor="end" textLength="4.62" lengthAdjust="spacingAndGlyphs" class="t">5</text>
<line x1="308.20" y1="631.20" x2="311.20" y2="631.20" stroke="#2a2a2a" stroke-width="1.0" />
<text x="306.70" y="634.49" font-size="8.3" text-anchor="end" textLength="4.62" lengthAdjust="spacingAndGlyphs" class="t">0</text>
<line x1="332.00" y1="518.30" x2="332.00" y2="567.00" stroke="#1e1e1e" stroke-width="1.0" />
<line x1="326.30" y1="518.30" x2="337.50" y2="518.30" stroke="#1e1e1e" stroke-width="1.1" />
<line x1="332.00" y1="618.80" x2="332.00" y2="625.80" stroke="#1e1e1e" stroke-width="1.0" />
<line x1="326.30" y1="625.80" x2="337.50" y2="625.80" stroke="#1e1e1e" stroke-width="1.1" />
<rect x="319.20" y="567.00" width="25.80" height="51.80" fill="#fff" stroke="#1e1e1e" stroke-width="1.05"/>
<line x1="319.20" y1="591.30" x2="345.00" y2="591.30" stroke="#1e1e1e" stroke-width="1.2" />
<text x="316.70" y="514.00" font-size="10" font-weight="normal" textLength="32.20" lengthAdjust="spacingAndGlyphs">(n=15)</text>
<line x1="371.30" y1="487.00" x2="371.30" y2="545.00" stroke="#1e1e1e" stroke-width="1.0" />
<line x1="365.80" y1="487.00" x2="377.50" y2="487.00" stroke="#1e1e1e" stroke-width="1.1" />
<line x1="371.30" y1="602.50" x2="371.30" y2="620.50" stroke="#1e1e1e" stroke-width="1.0" />
<line x1="365.80" y1="620.50" x2="377.50" y2="620.50" stroke="#1e1e1e" stroke-width="1.1" />
<rect x="357.50" y="545.00" width="26.30" height="57.50" fill="#8c8c8c" stroke="#1e1e1e" stroke-width="1.25"/>
<line x1="357.50" y1="585.00" x2="383.80" y2="585.00" stroke="#1e1e1e" stroke-width="1.5" />
<line x1="311.20" y1="631.20" x2="390.20" y2="631.20" stroke="#2a2a2a" stroke-width="1.2" />
<text x="323.50" y="644.80" font-size="11" font-weight="normal" textLength="14.30" lengthAdjust="spacingAndGlyphs">NT</text>
<text x="347.30" y="644.80" font-size="11" font-weight="normal" textLength="51.60" lengthAdjust="spacingAndGlyphs">CD38/IL-2</text>
<text x="296.10" y="593.30" font-size="10.6" transform="rotate(-90 296.10 593.30)" textLength="88.90" lengthAdjust="spacingAndGlyphs">RE <tspan font-style="italic">NAMPT</tspan> (x10³)</text>
<text x="455.20" y="461.60" font-size="10.3" font-weight="normal" textLength="36.20" lengthAdjust="spacingAndGlyphs"><tspan font-style="italic">P</tspan>=.015</text>
<path d="M453.30 468.80V464.30H492.50V468.80" fill="none" stroke="#1e1e1e" stroke-width="1"/>
<line x1="434.80" y1="471.80" x2="434.80" y2="631.00" stroke="#2a2a2a" stroke-width="1.2" />
<line x1="431.80" y1="471.80" x2="434.80" y2="471.80" stroke="#2a2a2a" stroke-width="1.0" />
<text x="429.70" y="475.29" font-size="8.3" text-anchor="end" textLength="9.23" lengthAdjust="spacingAndGlyphs" class="t">15</text>
<line x1="431.80" y1="524.30" x2="434.80" y2="524.30" stroke="#2a2a2a" stroke-width="1.0" />
<text x="429.70" y="527.79" font-size="8.3" text-anchor="end" textLength="9.23" lengthAdjust="spacingAndGlyphs" class="t">10</text>
<line x1="431.80" y1="577.50" x2="434.80" y2="577.50" stroke="#2a2a2a" stroke-width="1.0" />
<text x="429.70" y="580.99" font-size="8.3" text-anchor="end" textLength="4.62" lengthAdjust="spacingAndGlyphs" class="t">5</text>
<line x1="431.80" y1="631.00" x2="434.80" y2="631.00" stroke="#2a2a2a" stroke-width="1.0" />
<text x="429.70" y="634.29" font-size="8.3" text-anchor="end" textLength="4.62" lengthAdjust="spacingAndGlyphs" class="t">0</text>
<line x1="454.30" y1="547.50" x2="454.30" y2="587.00" stroke="#1e1e1e" stroke-width="1.0" />
<line x1="448.80" y1="547.50" x2="460.00" y2="547.50" stroke="#1e1e1e" stroke-width="1.1" />
<rect x="441.00" y="587.00" width="25.80" height="38.10" fill="#fff" stroke="#1e1e1e" stroke-width="1.05"/>
<line x1="441.00" y1="591.30" x2="466.80" y2="591.30" stroke="#1e1e1e" stroke-width="1.2" />
<text x="437.20" y="544.00" font-size="10" font-weight="normal" textLength="33.40" lengthAdjust="spacingAndGlyphs">(n=10)</text>
<line x1="492.00" y1="473.80" x2="492.00" y2="548.80" stroke="#1e1e1e" stroke-width="1.0" />
<line x1="485.70" y1="473.80" x2="498.90" y2="473.80" stroke="#1e1e1e" stroke-width="1.1" />
<line x1="492.00" y1="616.60" x2="492.00" y2="619.40" stroke="#1e1e1e" stroke-width="1.0" />
<line x1="485.70" y1="619.40" x2="498.90" y2="619.40" stroke="#1e1e1e" stroke-width="1.1" />
<rect x="479.30" y="548.80" width="25.50" height="67.80" fill="#8c8c8c" stroke="#1e1e1e" stroke-width="1.25"/>
<line x1="479.30" y1="565.00" x2="504.80" y2="565.00" stroke="#1e1e1e" stroke-width="1.5" />
<line x1="434.80" y1="631.10" x2="511.00" y2="631.10" stroke="#2a2a2a" stroke-width="1.2" />
<text x="447.00" y="644.70" font-size="11" font-weight="normal" textLength="13.40" lengthAdjust="spacingAndGlyphs">NT</text>
<text x="467.40" y="644.70" font-size="11" font-weight="normal" textLength="51.00" lengthAdjust="spacingAndGlyphs">CD40/IL-4</text>
<text x="417.40" y="593.30" font-size="10.6" transform="rotate(-90 417.40 593.30)" textLength="88.90" lengthAdjust="spacingAndGlyphs">RE <tspan font-style="italic">NAMPT</tspan> (x10³)</text>
<text x="0.3" y="681" font-size="17" font-weight="bold" class="L">G</text>
<text x="4.20" y="736.20" font-size="10.5" font-weight="normal" textLength="20.20" lengthAdjust="spacingAndGlyphs">kDa</text>
<text x="41.30" y="732.30" font-size="10.8" transform="rotate(-90 41.30 732.30)" textLength="13.30" lengthAdjust="spacingAndGlyphs">NT</text>
<text x="69.50" y="732.30" font-size="10.8" transform="rotate(-90 69.50 732.30)" textLength="43.90" lengthAdjust="spacingAndGlyphs">CpG/IL-2</text>
<text x="99.90" y="732.30" font-size="10.8" transform="rotate(-90 99.90 732.30)" textLength="49.90" lengthAdjust="spacingAndGlyphs">CD38/IL-2</text>
<text x="129.90" y="732.30" font-size="10.8" transform="rotate(-90 129.90 732.30)" textLength="49.90" lengthAdjust="spacingAndGlyphs">CD40/IL-4</text>
<text x="157.60" y="733.60" font-size="10.8" transform="rotate(-90 157.60 733.60)" textLength="20.80" lengthAdjust="spacingAndGlyphs">iIgM</text>
<text x="184.00" y="733.60" font-size="10.8" transform="rotate(-90 184.00 733.60)" textLength="37.30" lengthAdjust="spacingAndGlyphs">iIgM/Ibr</text>
<text x="213.00" y="733.30" font-size="10.8" transform="rotate(-90 213.00 733.30)" textLength="42.40" lengthAdjust="spacingAndGlyphs">rNAMPT</text>
<rect x="24.5" y="740.8" width="199.30" height="25.50" fill="#ebebeb" stroke="#1a1a1a" stroke-width="1.3"/>
<text x="4.20" y="758.80" font-size="10.5" font-weight="normal" textLength="12.90" lengthAdjust="spacingAndGlyphs">52</text>
<line x1="19.60" y1="755.30" x2="22.30" y2="755.30" stroke="#1e1e1e" stroke-width="1.0" />
<rect x="32.30" y="755.00" width="17.00" height="9.50" fill="url(#smear1)" filter="url(#b10)"/>
<rect x="30.80" y="753.40" width="20.00" height="3.20" rx="1.60" fill="#151515" opacity="1" filter="url(#b6)"/>
<rect x="60.70" y="754.00" width="16.70" height="10.50" fill="url(#smear1)" filter="url(#b10)"/>
<rect x="59.20" y="751.80" width="19.70" height="4.40" rx="2.20" fill="#000" opacity="1" filter="url(#b6)"/>
<rect x="89.70" y="753.30" width="17.30" height="11.20" fill="url(#smear1)" filter="url(#b10)"/>
<rect x="88.20" y="751.50" width="20.30" height="3.60" rx="1.80" fill="#080808" opacity="1" filter="url(#b6)"/>
<rect x="120.20" y="754.30" width="17.00" height="10.20" fill="url(#smear1)" filter="url(#b10)"/>
<rect x="118.70" y="752.60" width="20.00" height="3.40" rx="1.70" fill="#111" opacity="1" filter="url(#b6)"/>
<rect x="149.00" y="755.00" width="15.80" height="9.50" fill="url(#smear1)" filter="url(#b10)"/>
<rect x="147.50" y="753.00" width="18.80" height="4.00" rx="2.00" fill="#0a0a0a" opacity="1" filter="url(#b6)"/>
<rect x="176.00" y="756.20" width="16.30" height="8.30" fill="url(#smear1)" filter="url(#b10)"/>
<rect x="174.50" y="754.70" width="19.30" height="3.00" rx="1.50" fill="#151515" opacity="1" filter="url(#b6)"/>
<rect x="204.50" y="755.00" width="13.30" height="9.50" fill="url(#smear1)" filter="url(#b10)"/>
<rect x="203.00" y="752.50" width="16.30" height="5.00" rx="2.50" fill="#000" opacity="1" filter="url(#b6)"/>
<text x="92.60" y="781.30" font-size="10.5" font-weight="normal" textLength="56.70" lengthAdjust="spacingAndGlyphs">IB: NAMPT</text>
<rect x="24.5" y="801" width="199.30" height="25.00" fill="#ebebeb" stroke="#1a1a1a" stroke-width="1.3"/>
<text x="4.30" y="819.50" font-size="10.5" font-weight="normal" textLength="12.80" lengthAdjust="spacingAndGlyphs">45</text>
<line x1="19.60" y1="816.00" x2="22.30" y2="816.00" stroke="#1e1e1e" stroke-width="1.0" />
<rect x="33.80" y="811.00" width="17.50" height="13.50" fill="url(#smear2)" filter="url(#b10)"/>
<rect x="32.30" y="808.30" width="20.50" height="5.40" rx="2.50" fill="#050505" opacity="1" filter="url(#b6)"/>
<rect x="61.70" y="810.50" width="17.40" height="14.00" fill="url(#smear2)" filter="url(#b10)"/>
<rect x="60.20" y="807.70" width="20.40" height="5.60" rx="2.50" fill="#050505" opacity="1" filter="url(#b6)"/>
<rect x="89.70" y="810.70" width="18.20" height="13.80" fill="url(#smear2)" filter="url(#b10)"/>
<rect x="88.20" y="807.50" width="21.20" height="6.40" rx="2.50" fill="#000" opacity="1" filter="url(#b6)"/>
<rect x="118.70" y="811.20" width="19.00" height="13.30" fill="url(#smear2)" filter="url(#b10)"/>
<rect x="117.20" y="808.10" width="22.00" height="6.20" rx="2.50" fill="#050505" opacity="1" filter="url(#b6)"/>
<rect x="148.50" y="811.30" width="16.30" height="13.20" fill="url(#smear2)" filter="url(#b10)"/>
<rect x="147.00" y="808.40" width="19.30" height="5.80" rx="2.50" fill="#080808" opacity="1" filter="url(#b6)"/>
<rect x="174.80" y="811.30" width="17.00" height="13.20" fill="url(#smear2)" filter="url(#b10)"/>
<rect x="173.30" y="808.60" width="20.00" height="5.40" rx="2.50" fill="#080808" opacity="1" filter="url(#b6)"/>
<text x="100.60" y="841.00" font-size="10.5" font-weight="normal" textLength="41.70" lengthAdjust="spacingAndGlyphs">IB: Actin</text>
<line x1="294.00" y1="679.40" x2="294.00" y2="722.30" stroke="#2a2a2a" stroke-width="1.2" />
<line x1="294.00" y1="737.60" x2="294.00" y2="838.70" stroke="#2a2a2a" stroke-width="1.2" />
<line x1="291.00" y1="679.40" x2="294.00" y2="679.40" stroke="#2a2a2a" stroke-width="1.0" />
<text x="287.60" y="683.39" font-size="8.3" text-anchor="end" textLength="9.23" lengthAdjust="spacingAndGlyphs" class="t">10</text>
<line x1="291.00" y1="697.20" x2="294.00" y2="697.20" stroke="#2a2a2a" stroke-width="1.0" />
<text x="287.60" y="701.29" font-size="8.3" text-anchor="end" textLength="4.62" lengthAdjust="spacingAndGlyphs" class="t">8</text>
<line x1="291.00" y1="714.60" x2="294.00" y2="714.60" stroke="#2a2a2a" stroke-width="1.0" />
<text x="287.60" y="717.99" font-size="8.3" text-anchor="end" textLength="4.62" lengthAdjust="spacingAndGlyphs" class="t">6</text>
<line x1="291.00" y1="752.20" x2="294.00" y2="752.20" stroke="#2a2a2a" stroke-width="1.0" />
<text x="287.60" y="755.59" font-size="8.3" text-anchor="end" textLength="4.62" lengthAdjust="spacingAndGlyphs" class="t">3</text>
<line x1="291.00" y1="781.70" x2="294.00" y2="781.70" stroke="#2a2a2a" stroke-width="1.0" />
<text x="287.60" y="785.19" font-size="8.3" text-anchor="end" textLength="4.62" lengthAdjust="spacingAndGlyphs" class="t">2</text>
<line x1="291.00" y1="810.60" x2="294.00" y2="810.60" stroke="#2a2a2a" stroke-width="1.0" />
<text x="287.60" y="813.99" font-size="8.3" text-anchor="end" textLength="4.62" lengthAdjust="spacingAndGlyphs" class="t">1</text>
<line x1="291.00" y1="838.70" x2="294.00" y2="838.70" stroke="#2a2a2a" stroke-width="1.0" />
<text x="287.60" y="841.89" font-size="8.3" text-anchor="end" textLength="4.62" lengthAdjust="spacingAndGlyphs" class="t">0</text>
<line x1="290.00" y1="724.80" x2="297.60" y2="720.60" stroke="#1e1e1e" stroke-width="1.1" />
<line x1="290.00" y1="739.90" x2="297.60" y2="735.70" stroke="#1e1e1e" stroke-width="1.1" />
<line x1="294.00" y1="810.60" x2="488.00" y2="810.60" stroke="#222" stroke-width="1.0" stroke-dasharray="3.2 2.85"/>
<line x1="313.50" y1="694.00" x2="313.50" y2="711.20" stroke="#1e1e1e" stroke-width="1.0" />
<line x1="307.30" y1="694.00" x2="319.80" y2="694.00" stroke="#1e1e1e" stroke-width="1.1" />
<rect x="300.8" y="711.2" width="25.8" height="11.3" fill="#9c9c9c"/>
<path d="M300.8 722.6V711.2H326.6V722.3" fill="none" stroke="#1e1e1e" stroke-width="1.1"/>
<rect x="300.8" y="738.6" width="25.8" height="47.1" fill="#9c9c9c"/>
<path d="M300.8 738.6V785.7H326.6V738.2" fill="none" stroke="#1e1e1e" stroke-width="1.1"/>
<line x1="298.40" y1="724.90" x2="305.60" y2="720.50" stroke="#1e1e1e" stroke-width="1.2" />
<line x1="322.50" y1="724.90" x2="330.10" y2="720.40" stroke="#1e1e1e" stroke-width="1.2" />
<line x1="298.40" y1="740.60" x2="305.60" y2="736.40" stroke="#1e1e1e" stroke-width="1.2" />
<line x1="322.50" y1="740.60" x2="329.70" y2="736.40" stroke="#1e1e1e" stroke-width="1.2" />
<line x1="300.80" y1="759.60" x2="326.60" y2="759.60" stroke="#1e1e1e" stroke-width="1.4" />
<line x1="313.50" y1="785.70" x2="313.50" y2="796.80" stroke="#1e1e1e" stroke-width="1.0" />
<line x1="307.30" y1="796.80" x2="320.20" y2="796.80" stroke="#1e1e1e" stroke-width="1.1" />
<text x="297.60" y="687.50" font-size="10.5" font-weight="normal" textLength="35.40" lengthAdjust="spacingAndGlyphs"><tspan font-style="italic">P</tspan>=.002</text>
<line x1="351.70" y1="770.70" x2="351.70" y2="790.00" stroke="#1e1e1e" stroke-width="1.0" />
<line x1="345.40" y1="770.70" x2="358.10" y2="770.70" stroke="#1e1e1e" stroke-width="1.1" />
<line x1="351.70" y1="809.40" x2="351.70" y2="815.50" stroke="#1e1e1e" stroke-width="1.0" />
<line x1="345.40" y1="815.50" x2="358.10" y2="815.50" stroke="#1e1e1e" stroke-width="1.1" />
<rect x="339.60" y="790.00" width="25.20" height="19.40" fill="#262626" stroke="#1e1e1e" stroke-width="1.25"/>
<line x1="339.60" y1="804.90" x2="364.80" y2="804.90" stroke="#4a4a4a" stroke-width="0.9" />
<text x="339.80" y="766.50" font-size="10.5" font-weight="normal" textLength="29.90" lengthAdjust="spacingAndGlyphs"><tspan font-style="italic">P</tspan>=.04</text>
<rect x="377.30" y="786.20" width="26.30" height="20.40" fill="url(#hG1)" stroke="#1e1e1e" stroke-width="1.25"/>
<line x1="377.30" y1="804.90" x2="403.60" y2="804.90" stroke="#1e1e1e" stroke-width="1.5" />
<text x="375.80" y="782.20" font-size="10.5" font-weight="normal" textLength="28.50" lengthAdjust="spacingAndGlyphs"><tspan font-style="italic">P</tspan>=.03</text>
<line x1="429.50" y1="778.80" x2="429.50" y2="781.40" stroke="#1e1e1e" stroke-width="1.0" />
<line x1="424.80" y1="778.80" x2="435.60" y2="778.80" stroke="#1e1e1e" stroke-width="1.1" />
<line x1="429.50" y1="805.30" x2="429.50" y2="810.40" stroke="#1e1e1e" stroke-width="1.0" />
<line x1="424.80" y1="810.40" x2="435.60" y2="810.40" stroke="#1e1e1e" stroke-width="1.1" />
<rect x="415.90" y="781.40" width="26.10" height="23.90" fill="url(#hG2)" stroke="#1e1e1e" stroke-width="1.25"/>
<line x1="415.90" y1="790.20" x2="442.00" y2="790.20" stroke="#1e1e1e" stroke-width="1.5" />
<text x="414.30" y="775.30" font-size="10.5" font-weight="normal" textLength="35.00" lengthAdjust="spacingAndGlyphs"><tspan font-style="italic">P</tspan>=.015</text>
<line x1="467.30" y1="797.50" x2="467.30" y2="800.30" stroke="#1e1e1e" stroke-width="1.0" />
<line x1="460.50" y1="797.50" x2="474.00" y2="797.50" stroke="#1e1e1e" stroke-width="1.1" />
<line x1="467.30" y1="822.10" x2="467.30" y2="823.20" stroke="#1e1e1e" stroke-width="1.0" />
<line x1="460.50" y1="823.20" x2="474.00" y2="823.20" stroke="#1e1e1e" stroke-width="1.1" />
<rect x="454.20" y="800.30" width="26.30" height="21.80" fill="url(#hG3)" stroke="#1e1e1e" stroke-width="1.25"/>
<line x1="454.20" y1="813.60" x2="480.50" y2="813.60" stroke="#000" stroke-width="1.5" />
<circle cx="390.4" cy="738.5" r="3.4" fill="#000"/>
<line x1="294.00" y1="838.70" x2="488.00" y2="838.70" stroke="#2a2a2a" stroke-width="1.2" />
<text x="257.30" y="810.60" font-size="11" transform="rotate(-90 257.30 810.60)" textLength="105.80" lengthAdjust="spacingAndGlyphs">NAMPT protein/Actin</text>
<text x="270.80" y="809.10" font-size="11" transform="rotate(-90 270.80 809.10)" textLength="105.60" lengthAdjust="spacingAndGlyphs">(FC on NT condition)</text>
<rect x="421.4" y="680" width="16.6" height="11.60" fill="#9c9c9c" stroke="#1e1e1e" stroke-width="1.1"/>
<text x="443.00" y="689.50" font-size="11.5" font-weight="normal" textLength="44.40" lengthAdjust="spacingAndGlyphs">CpG/IL-2</text>
<rect x="421.4" y="696.2" width="16.6" height="12.10" fill="#222" stroke="#1e1e1e" stroke-width="1.1"/>
<text x="443.00" y="705.30" font-size="11.5" font-weight="normal" textLength="76.70" lengthAdjust="spacingAndGlyphs">Anti-CD38/IL-2</text>
<rect x="421.4" y="712.4" width="16.6" height="11.80" fill="url(#hL1)" stroke="#1e1e1e" stroke-width="1.1"/>
<text x="443.00" y="721.10" font-size="11.5" font-weight="normal" textLength="76.10" lengthAdjust="spacingAndGlyphs">Anti-CD40/IL-4</text>
<rect x="421.4" y="728.2" width="16.6" height="11.10" fill="url(#hL2)" stroke="#1e1e1e" stroke-width="1.1"/>
<text x="443.00" y="737.30" font-size="11.5" font-weight="normal" textLength="21.60" lengthAdjust="spacingAndGlyphs">iIgM</text>
<rect x="421.4" y="744.3" width="16.6" height="11.20" fill="url(#hL3)" stroke="#1e1e1e" stroke-width="1.1"/>
<text x="443.00" y="752.80" font-size="11.5" font-weight="normal" textLength="43.80" lengthAdjust="spacingAndGlyphs">iIgM +Ibr</text>
</svg></body></html>
